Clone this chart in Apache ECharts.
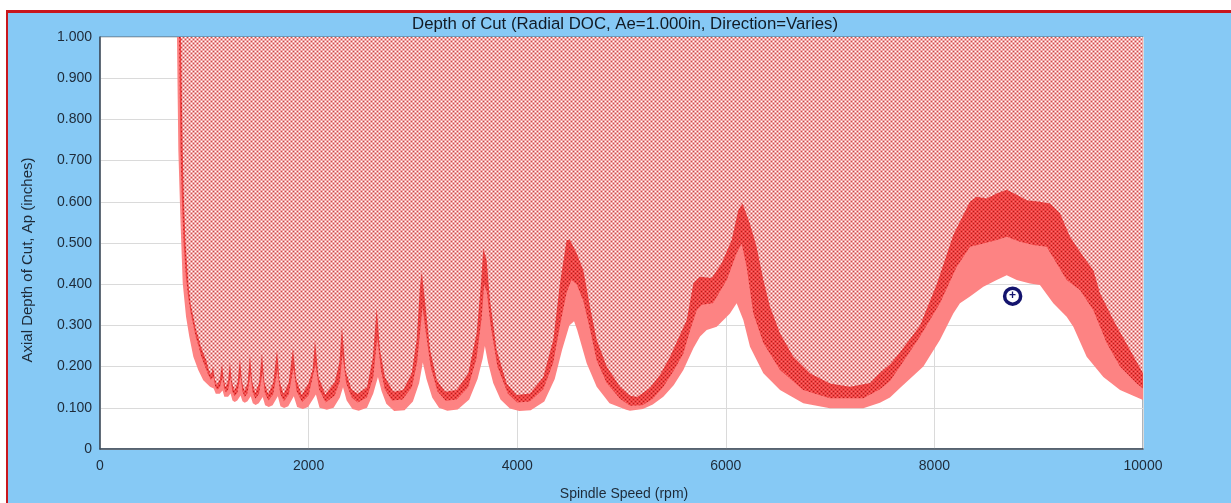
<!DOCTYPE html>
<html><head><meta charset="utf-8">
<script src="https://cdn.jsdelivr.net/npm/echarts@6/dist/echarts.min.js"></script>
<style>
html,body{margin:0;padding:0;background:#fff;width:1231px;height:503px;overflow:hidden}
#frame{position:absolute;left:6px;top:10px;right:0;bottom:0;background:#86c9f5;border-top:3px solid #c8161d;border-left:2px solid #c8161d}
#chart{position:absolute;left:0;top:0;width:1231px;height:503px}
</style></head>
<body><div id="frame"></div><div id="chart"></div>
<script>
// Upper boundary (top of dark band / start of hatched unstable region)
const upperRpm = [777,785,793,805,820,847,870,895,920,942,965,990,1020,1045,1065,1083,1100,1122,1150,1170,1185,1205,1228,1246,1263,1288,1318,1342,1360,1385,1415,1438,1458,1488,1525,1553,1575,1612,1660,1697,1722,1760,1810,1850,1880,1935,2000,2040,2061,2095,2160,2250,2295,2320,2355,2410,2470,2560,2615,2653,2685,2732,2812,2908,2988,3036,3068,3085,3115,3165,3230,3310,3420,3531,3611,3653,3675,3707,3739,3803,3899,3995,4123,4250,4346,4410,4474,4506,4570,4634,4698,4762,4858,4986,5080,5150,5270,5370,5465,5625,5690,5750,5865,5960,6056,6120,6160,6230,6295,6360,6424,6520,6647,6807,6999,7191,7383,7478,7574,7670,7862,8022,8182,8340,8405,8500,8597,8693,8789,8885,9012,9108,9204,9300,9428,9524,9588,9716,9876,10000];
const upperDoc = [1.000,0.850,0.726,0.600,0.500,0.403,0.350,0.321,0.290,0.273,0.250,0.233,0.215,0.190,0.180,0.200,0.170,0.155,0.170,0.209,0.170,0.150,0.165,0.211,0.165,0.142,0.160,0.220,0.165,0.140,0.160,0.228,0.165,0.136,0.160,0.233,0.163,0.133,0.160,0.240,0.165,0.132,0.162,0.245,0.170,0.131,0.160,0.195,0.265,0.175,0.132,0.162,0.210,0.297,0.190,0.145,0.134,0.150,0.220,0.342,0.240,0.175,0.139,0.143,0.184,0.265,0.394,0.430,0.362,0.240,0.167,0.139,0.143,0.184,0.281,0.402,0.487,0.459,0.362,0.240,0.159,0.131,0.135,0.175,0.265,0.402,0.507,0.507,0.475,0.434,0.345,0.265,0.200,0.151,0.130,0.126,0.148,0.180,0.224,0.313,0.403,0.418,0.415,0.451,0.507,0.580,0.596,0.548,0.491,0.410,0.345,0.281,0.224,0.184,0.159,0.151,0.160,0.185,0.205,0.235,0.300,0.400,0.520,0.600,0.612,0.608,0.620,0.629,0.617,0.604,0.600,0.596,0.572,0.515,0.467,0.434,0.378,0.313,0.240,0.184];

// Middle boundary (top of light band / bottom of dark band)
const midRpm = [758,766,772,786,802,823,845,870,895,920,945,970,1000,1030,1060,1088,1105,1125,1150,1175,1190,1208,1230,1251,1268,1290,1318,1347,1365,1388,1415,1443,1463,1490,1525,1558,1580,1615,1660,1702,1727,1763,1810,1855,1885,1938,2000,2066,2100,2163,2250,2300,2325,2360,2413,2470,2560,2620,2658,2695,2730,2800,2900,2990,3040,3075,3092,3120,3170,3235,3315,3420,3530,3610,3660,3683,3710,3745,3810,3910,4000,4120,4250,4346,4410,4474,4520,4570,4634,4698,4762,4858,4986,5081,5200,5300,5401,5500,5593,5660,5721,5769,5877,6009,6104,6152,6200,6264,6360,6520,6743,6999,7318,7478,7574,7670,7862,8053,8213,8341,8469,8597,8693,8821,8949,9076,9172,9268,9396,9524,9652,9780,9940,10000];
const midDoc = [1.000,0.850,0.726,0.600,0.500,0.420,0.370,0.330,0.300,0.270,0.250,0.225,0.205,0.185,0.168,0.175,0.152,0.143,0.150,0.175,0.148,0.137,0.145,0.175,0.140,0.128,0.137,0.178,0.140,0.126,0.136,0.182,0.138,0.122,0.134,0.186,0.136,0.118,0.132,0.192,0.135,0.116,0.132,0.197,0.140,0.114,0.130,0.205,0.145,0.113,0.130,0.165,0.230,0.160,0.125,0.113,0.125,0.175,0.270,0.190,0.145,0.118,0.120,0.150,0.210,0.300,0.345,0.290,0.200,0.140,0.117,0.120,0.150,0.220,0.320,0.400,0.380,0.300,0.200,0.135,0.113,0.115,0.145,0.210,0.300,0.380,0.410,0.400,0.360,0.290,0.215,0.160,0.122,0.105,0.106,0.122,0.151,0.190,0.232,0.290,0.337,0.350,0.354,0.410,0.475,0.499,0.442,0.329,0.257,0.192,0.143,0.123,0.123,0.145,0.165,0.200,0.273,0.354,0.442,0.491,0.499,0.507,0.515,0.503,0.495,0.491,0.451,0.410,0.386,0.337,0.257,0.200,0.159,0.147];

// Lower boundary (bottom of light band / edge of stable white region)
const lowerRpm = [738,745,751,772,793,825,856,895,942,990,1055,1090,1110,1127,1148,1175,1192,1208,1228,1252,1270,1292,1316,1348,1366,1388,1414,1445,1465,1492,1522,1560,1583,1618,1655,1705,1730,1765,1805,1858,1890,1945,1995,2070,2105,2175,2240,2300,2330,2365,2420,2480,2560,2620,2665,2700,2745,2820,2920,3000,3060,3095,3130,3185,3250,3330,3430,3540,3620,3670,3690,3720,3770,3840,3930,4020,4130,4260,4360,4430,4500,4545,4575,4666,4762,4885,5045,5081,5205,5300,5401,5500,5593,5690,5753,5817,5913,6040,6104,6168,6232,6360,6520,6743,6999,7318,7478,7574,7670,7894,8054,8181,8245,8341,8469,8597,8693,8789,8917,9012,9140,9268,9332,9460,9620,9780,10000];
const lowerDoc = [1.000,0.850,0.726,0.550,0.403,0.321,0.273,0.224,0.192,0.167,0.151,0.147,0.134,0.131,0.134,0.142,0.127,0.124,0.127,0.135,0.118,0.114,0.118,0.130,0.116,0.112,0.116,0.128,0.111,0.107,0.111,0.126,0.106,0.102,0.106,0.128,0.104,0.0995,0.104,0.128,0.102,0.097,0.102,0.132,0.100,0.095,0.100,0.125,0.150,0.118,0.097,0.093,0.100,0.135,0.175,0.140,0.110,0.092,0.094,0.115,0.160,0.210,0.170,0.125,0.100,0.093,0.096,0.120,0.170,0.220,0.250,0.210,0.160,0.120,0.098,0.092,0.094,0.115,0.170,0.240,0.300,0.310,0.289,0.208,0.151,0.111,0.095,0.093,0.097,0.108,0.127,0.155,0.192,0.245,0.273,0.289,0.297,0.329,0.354,0.313,0.248,0.184,0.143,0.111,0.099,0.099,0.112,0.125,0.148,0.200,0.265,0.329,0.354,0.370,0.394,0.410,0.422,0.410,0.402,0.398,0.354,0.321,0.297,0.224,0.175,0.143,0.119];

// Test point marker
const markerPoint = [8750, 0.371];

const xTicks = [0, 2000, 4000, 6000, 8000, 10000];
const yTickLabels = ['0','0.100','0.200','0.300','0.400','0.500','0.600','0.700','0.800','0.900','1.000'];

const titleText = 'Depth of Cut (Radial DOC, Ae=1.000in, Direction=Varies)';
const xName = 'Spindle Speed (rpm)';
const yName = 'Axial Depth of Cut, Ap (inches)';

function zip(xs, ys){ return xs.map((x,i)=>[x, ys[i]]); }

function makePattern(base, light, dark){
  const c = document.createElement('canvas');
  c.width = 4; c.height = 4;
  const g = c.getContext('2d');
  g.fillStyle = base; g.fillRect(0,0,4,4);
  g.fillStyle = light; g.fillRect(1,1,1,1); g.fillRect(3,3,1,1);
  g.fillStyle = dark; g.fillRect(1,3,1,1); g.fillRect(3,1,1,1);
  return c;
}
const hatchLight = makePattern('#f1a8a8', '#ffffff', '#c84c4c');
const hatchDark = makePattern('#ef4444', '#f87070', '#b81a1a');

const chart = echarts.init(document.getElementById('chart'), null, {renderer:'canvas'});
const textColor = '#1e2a38';
const plotL = 100, plotR = 1143, plotT = 37, plotB = 449;

function band(name, xs, ys, fill, z){
  return {
    name: name, type: 'line', data: zip(xs, ys), symbol: 'none', z: z,
    lineStyle: { width: 0 }, silent: true,
    areaStyle: { origin: 'end', color: fill, opacity: 1 },
    animation: false
  };
}

chart.setOption({
  animation: false,
  backgroundColor: 'transparent',
  grid: { left: plotL, right: 1231 - plotR, top: plotT, bottom: 503 - plotB, show: true,
          backgroundColor: '#ffffff', borderColor: '#5a6878', borderWidth: 1 },
  xAxis: {
    type: 'value', min: 0, max: 10000, interval: 2000,
    axisLine: { show: true, lineStyle: { color: '#3a4858', width: 1.5 } },
    axisTick: { show: false },
    axisLabel: { color: textColor, fontSize: 14, fontFamily: 'Liberation Sans, Arial, sans-serif', margin: 10,
                 formatter: v => xTicks.includes(v) ? String(v) : '' },
    splitLine: { show: true, lineStyle: { color: '#dadada', width: 1 } }
  },
  yAxis: {
    type: 'value', min: 0, max: 1, interval: 0.1,
    axisLine: { show: true, lineStyle: { color: '#3a4858', width: 1.5 } },
    axisTick: { show: false },
    axisLabel: { color: textColor, fontSize: 14, fontFamily: 'Liberation Sans, Arial, sans-serif', margin: 8,
                 formatter: v => yTickLabels[Math.round(v * 10)] },
    splitLine: { show: true, lineStyle: { color: '#dadada', width: 1 } }
  },
  graphic: [
    { type: 'text', x: 625, y: 24, silent: true,
      style: { text: titleText, fill: '#111a24', font: '16.8px "Liberation Sans", Arial, sans-serif', align: 'center', verticalAlign: 'middle' } },
    { type: 'text', x: 624, y: 494, silent: true,
      style: { text: xName, fill: textColor, font: '14px "Liberation Sans", Arial, sans-serif', align: 'center', verticalAlign: 'middle' } },
    { type: 'text', x: 28, y: 260, rotation: Math.PI / 2, silent: true,
      style: { text: yName, fill: textColor, font: '15px "Liberation Sans", Arial, sans-serif', align: 'center', verticalAlign: 'middle' } }
  ],
  series: [
    band('lower', lowerRpm, lowerDoc, '#fd8383', 2),
    band('mid', midRpm, midDoc, { image: hatchDark, repeat: 'repeat' }, 3),
    band('upper', upperRpm, upperDoc, { image: hatchLight, repeat: 'repeat' }, 4),
    { name: 'point', type: 'scatter', data: [markerPoint], z: 10, symbol: 'circle', symbolSize: 16,
      itemStyle: { color: '#ffffff', borderColor: '#14146e', borderWidth: 3.5, opacity: 1 },
      label: { show: true, position: 'inside', formatter: '+', color: '#14146e', fontSize: 12, fontWeight: 'bold' },
      silent: true }
  ]
});
</script></body></html>
